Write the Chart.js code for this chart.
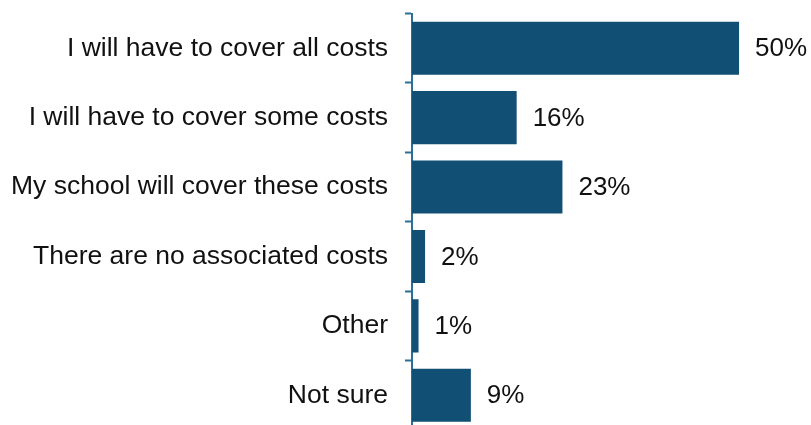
<!DOCTYPE html>
<html>
<head>
<meta charset="utf-8">
<script src="https://cdn.jsdelivr.net/npm/chart.js@4/dist/chart.umd.min.js"></script>
<style>
  html, body { margin: 0; padding: 0; background: #fff; overflow: hidden; }
  #wrap { width: 811px; height: 430px; }
</style>
</head>
<body>
<div id="wrap"><canvas id="costChart"></canvas></div>
<script>
'use strict'

const answers = [
  'I will have to cover all costs',
  'I will have to cover some costs',
  'My school will cover these costs',
  'There are no associated costs',
  'Other',
  'Not sure'
];
const percents = [50, 16, 23, 2, 1, 9];

const barColor = '#114f74';
const axisColor = '#2a6f97';
const textFont = '"Liberation Sans", Arial, sans-serif';

// writes "NN%" just past the end of each bar
const valueLabels = {
  id: 'valueLabels',
  afterDatasetsDraw(chart) {
    const ctx = chart.ctx;
    const meta = chart.getDatasetMeta(0);
    ctx.save();
    ctx.font = '26px ' + textFont;
    ctx.fillStyle = '#111';
    ctx.textAlign = 'left';
    ctx.textBaseline = 'middle';
    meta.data.forEach(function(bar, i) {
      ctx.fillText(percents[i] + '%', bar.x + 16, bar.y + 1);
    });
    ctx.restore();
  }
};

const ctx = document.getElementById('costChart').getContext('2d');

const costChart = new Chart(ctx, {
  type: 'bar',
  data: {
    labels: answers,
    datasets: [{
      data: percents,
      backgroundColor: barColor,
      borderWidth: 0,
      categoryPercentage: 1,
      barPercentage: 0.765
    }]
  },
  options: {
    indexAxis: 'y',
    responsive: true,
    maintainAspectRatio: false,
    animation: false,
    layout: { padding: { top: 13.5, right: 0, bottom: 0, left: 0 } },
    plugins: {
      legend: { display: false },
      tooltip: { enabled: false }
    },
    scales: {
      x: {
        display: false,
        min: 0,
        max: 61
      },
      y: {
        afterFit(scale) {
          scale.width = 412;
          scale.paddingTop = 0;
          scale.paddingBottom = 0;
        },
        border: { display: true, color: axisColor, width: 2 },
        grid: {
          offset: true,
          drawOnChartArea: false,
          drawTicks: true,
          tickLength: 7,
          tickWidth: 2,
          color: axisColor
        },
        ticks: {
          color: '#111',
          padding: 17,
          font: { family: textFont, size: 26.5 }
        }
      }
    }
  },
  plugins: [valueLabels]
});
</script>
</body>
</html>
